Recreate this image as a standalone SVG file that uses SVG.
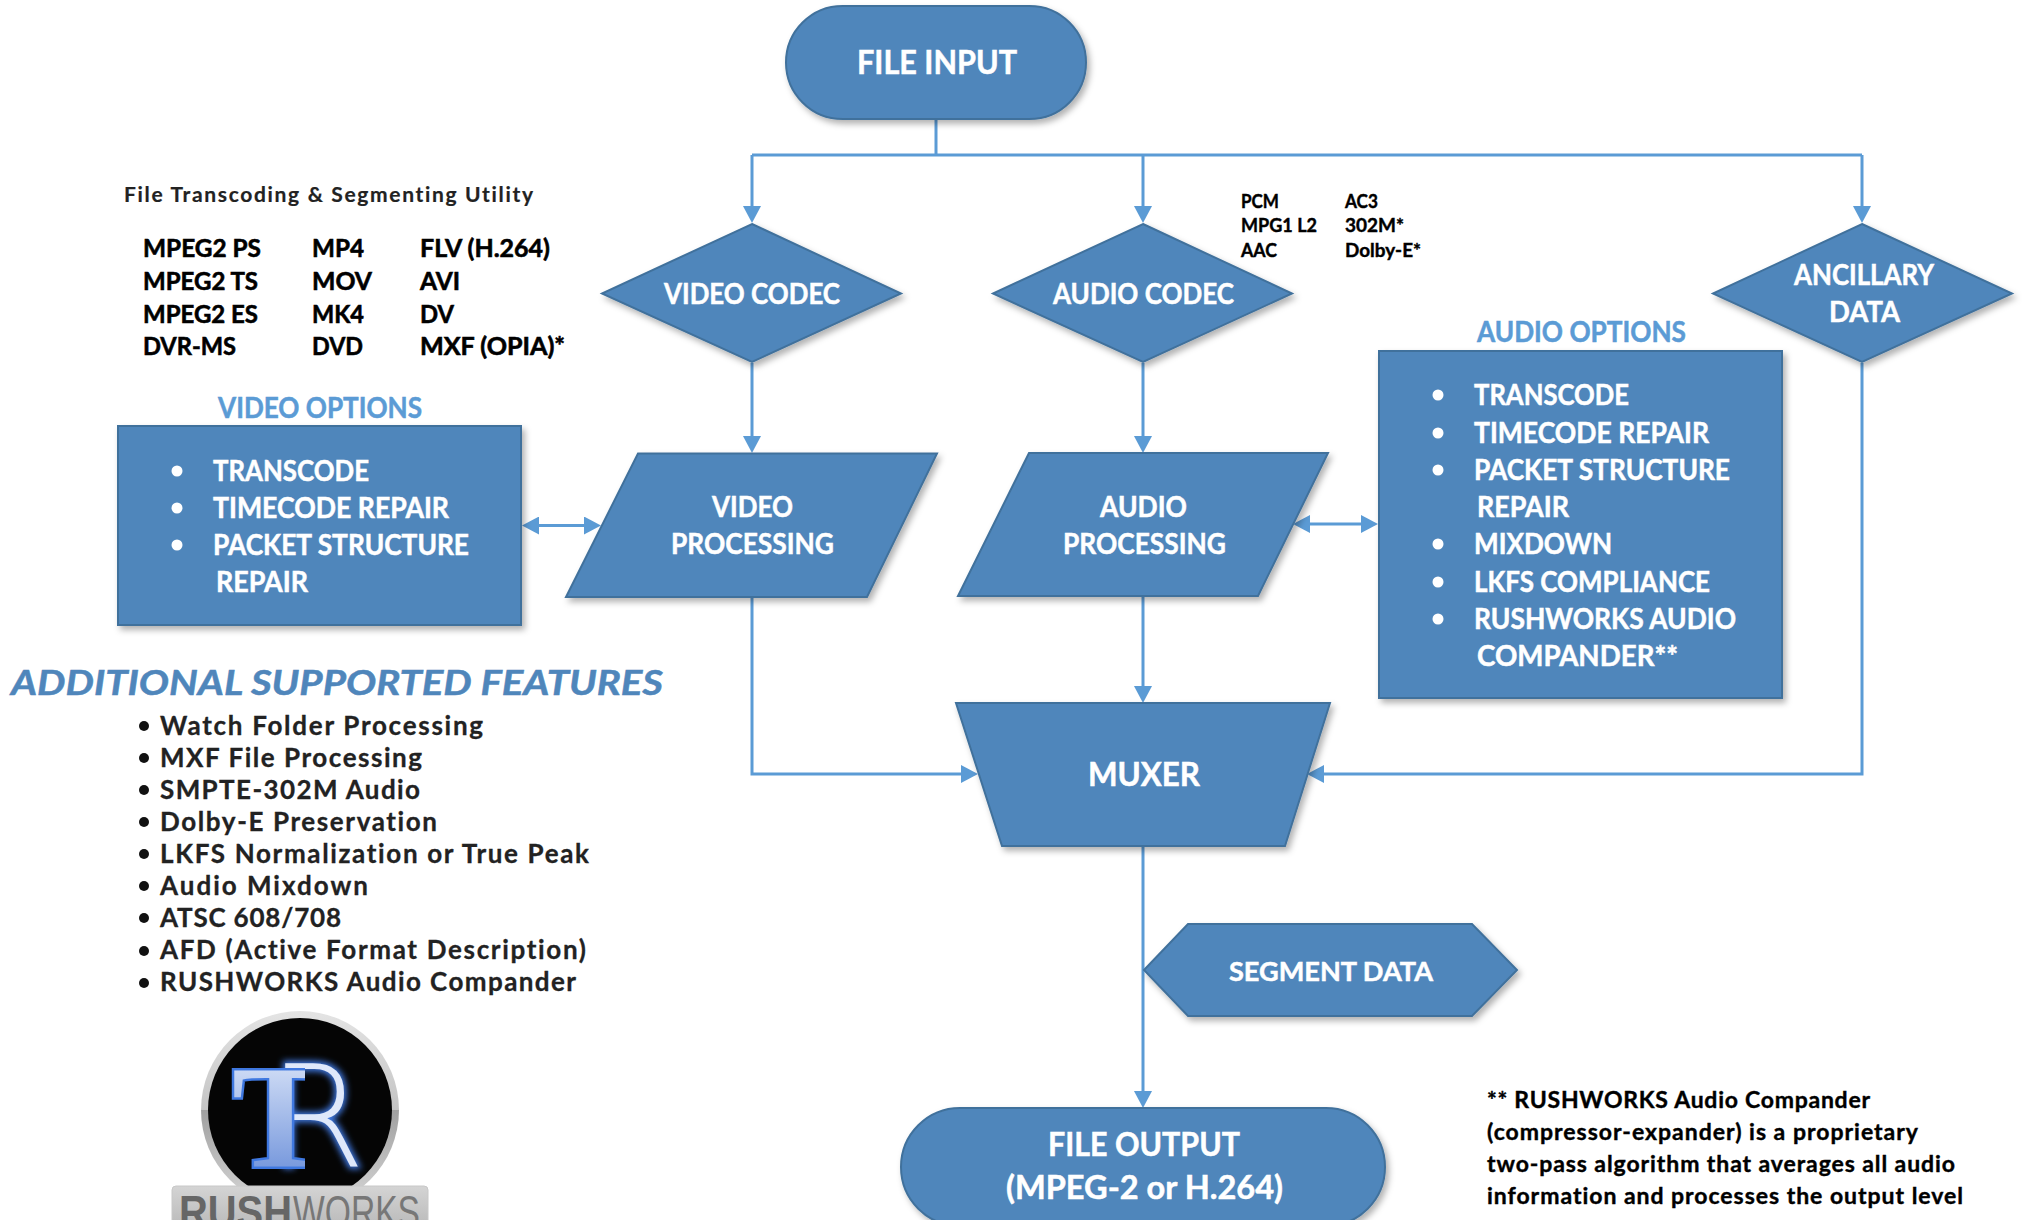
<svg xmlns="http://www.w3.org/2000/svg" width="2022" height="1220" viewBox="0 0 2022 1220">
<style>
text{font-family:"Lato","Open Sans","Liberation Sans",sans-serif;font-weight:700;font-variant-ligatures:none}
.sh{fill:#4f86bb;stroke:#41719c;stroke-width:2}
.n{fill:#fff;stroke:#fff;stroke-width:.5px;font-size:29px;transform:translateY(1px)}
.l{fill:#fff;stroke:#fff;stroke-width:.5px;font-size:28px;transform:translateY(1px)}
.h{fill:#5b9bd5;stroke:#5b9bd5;stroke-width:.5px;font-size:28px;transform:translateY(1px)}
.f{fill:#000;stroke:#000;stroke-width:.6px;font-size:25px;transform:translateX(-1px)}
.a{fill:#000;stroke:#000;stroke-width:.4px;font-size:18px;transform:translateX(-1px)}
.k{fill:#222;stroke:#222;stroke-width:.3px;font-size:26px}
.t{fill:#222;stroke:#222;stroke-width:.2px;font-size:21px}
.c{fill:#000;stroke:#000;stroke-width:.4px;font-size:23px}
.w{fill:#fff}
.d{fill:#111}
.cn{fill:none;stroke:#5b9bd5;stroke-width:3}
</style>
<defs>
<filter id="s" x="-10%" y="-10%" width="125%" height="125%"><feDropShadow dx="3" dy="4" stdDeviation="3" flood-color="#000" flood-opacity="0.3"/></filter>
<filter id="g" x="-30%" y="-30%" width="160%" height="160%"><feGaussianBlur stdDeviation="3"/></filter>
<marker id="ar" markerUnits="userSpaceOnUse" viewBox="0 0 17 18" markerWidth="17" markerHeight="18" refX="12" refY="9" orient="auto-start-reverse"><polygon points="0,0 17,9 0,18" fill="#5b9bd5"/></marker>
<linearGradient id="ring" x1="0" y1="0" x2="0" y2="1"><stop offset="0" stop-color="#e4e4e4"/><stop offset="0.5" stop-color="#c4c4c4"/><stop offset="0.5" stop-color="#a0a0a0"/><stop offset="1" stop-color="#d8d8d8"/></linearGradient>
<linearGradient id="tg" x1="0" y1="0" x2="0" y2="1"><stop offset="0" stop-color="#e8effc"/><stop offset="1" stop-color="#5f86d6"/></linearGradient>
<linearGradient id="lab" x1="0" y1="0" x2="0" y2="1"><stop offset="0" stop-color="#d4d4d4"/><stop offset="1" stop-color="#b4b4b4"/></linearGradient>
<clipPath id="tc"><rect x="200" y="1030" width="105" height="150"/></clipPath>
</defs>

<g id="connectors" class="cn">
<path d="M936 119V155"/>
<path d="M752 155H1862"/>
<path d="M752 155V218" marker-end="url(#ar)"/>
<path d="M1143 155V218" marker-end="url(#ar)"/>
<path d="M1862 155V218" marker-end="url(#ar)"/>
<path d="M752 363V448" marker-end="url(#ar)"/>
<path d="M1143 363V448" marker-end="url(#ar)"/>
<path d="M1143 597V698" marker-end="url(#ar)"/>
<path d="M752 597V774H973" marker-end="url(#ar)"/>
<path d="M1862 363V774H1312" marker-end="url(#ar)"/>
<path d="M1143 847V1103" marker-end="url(#ar)"/>
<path d="M527 525.500H596" marker-start="url(#ar)" marker-end="url(#ar)"/>
<path d="M1298 524H1373" marker-start="url(#ar)" marker-end="url(#ar)"/>
</g>

<g id="file-input"><rect class="sh" filter="url(#s)" x="786" y="6" width="300" height="113" rx="56.500"/>
<text class="n" x="857" y="73" style="font-size:32px" textLength="160" lengthAdjust="spacingAndGlyphs">FILE INPUT</text></g>

<g id="video-codec"><polygon class="sh" filter="url(#s)" points="752,224 901,293.500 752,362 602,293.500"/>
<text class="n" x="664" y="303" textLength="176" lengthAdjust="spacingAndGlyphs">VIDEO CODEC</text></g>
<g id="audio-codec"><polygon class="sh" filter="url(#s)" points="1143,224 1292,293.500 1143,362 993,293.500"/>
<text class="n" x="1053" y="303" textLength="181" lengthAdjust="spacingAndGlyphs">AUDIO CODEC</text></g>
<g id="ancillary-data"><polygon class="sh" filter="url(#s)" points="1862,224 2012,293.500 1862,362 1713,293.500"/>
<text class="n" x="1794" y="284" textLength="140" lengthAdjust="spacingAndGlyphs">ANCILLARY</text>
<text class="n" x="1829" y="321" textLength="71" lengthAdjust="spacingAndGlyphs">DATA</text></g>

<g id="video-processing"><polygon class="sh" filter="url(#s)" points="638,453.500 937,453.500 867,597 566,597"/>
<text class="n" x="712" y="516" textLength="81" lengthAdjust="spacingAndGlyphs">VIDEO</text>
<text class="n" x="671" y="553" textLength="163" lengthAdjust="spacingAndGlyphs">PROCESSING</text></g>
<g id="audio-processing"><polygon class="sh" filter="url(#s)" points="1029,453 1328,453 1258,596 958,596"/>
<text class="n" x="1100" y="516" textLength="87" lengthAdjust="spacingAndGlyphs">AUDIO</text>
<text class="n" x="1063" y="553" textLength="163" lengthAdjust="spacingAndGlyphs">PROCESSING</text></g>

<g id="muxer"><polygon class="sh" filter="url(#s)" points="956,703 1330,703 1285,846 1002,846"/>
<text class="n" style="font-size:32px" x="1088" y="785" textLength="112" lengthAdjust="spacingAndGlyphs">MUXER</text></g>

<g id="segment-data"><polygon class="sh" filter="url(#s)" points="1144,970 1188,924 1472,924 1517,970 1472,1016 1188,1016"/>
<text class="n" style="font-size:27px" x="1229" y="980" textLength="204" lengthAdjust="spacingAndGlyphs">SEGMENT DATA</text></g>

<g id="file-output"><rect class="sh" filter="url(#s)" x="901" y="1108" width="484" height="118" rx="59"/>
<text class="n" style="font-size:32px" x="1048" y="1155" textLength="192" lengthAdjust="spacingAndGlyphs">FILE OUTPUT</text>
<text class="n" style="font-size:32px" x="1006" y="1198" textLength="277" lengthAdjust="spacingAndGlyphs">(MPEG-2 or H.264)</text></g>

<g id="video-options">
<text class="h" x="218" y="417" textLength="204" lengthAdjust="spacingAndGlyphs">VIDEO OPTIONS</text>
<rect class="sh" filter="url(#s)" x="118" y="426" width="403" height="199"/>
<circle class="w" cx="177" cy="471" r="5.500"/><circle class="w" cx="177" cy="508" r="5.500"/><circle class="w" cx="177" cy="545" r="5.500"/>
<text class="l" x="213" y="480" textLength="156" lengthAdjust="spacingAndGlyphs">TRANSCODE</text>
<text class="l" x="213" y="517" textLength="236" lengthAdjust="spacingAndGlyphs">TIMECODE REPAIR</text>
<text class="l" x="213" y="554" textLength="256" lengthAdjust="spacingAndGlyphs">PACKET STRUCTURE</text>
<text class="l" x="216" y="591" textLength="92" lengthAdjust="spacingAndGlyphs">REPAIR</text>
</g>

<g id="audio-options">
<text class="h" x="1477" y="341" textLength="209" lengthAdjust="spacingAndGlyphs">AUDIO OPTIONS</text>
<rect class="sh" filter="url(#s)" x="1379" y="351" width="403" height="347"/>
<circle class="w" cx="1438" cy="395" r="5.500"/><circle class="w" cx="1438" cy="433" r="5.500"/><circle class="w" cx="1438" cy="470" r="5.500"/><circle class="w" cx="1438" cy="544" r="5.500"/><circle class="w" cx="1438" cy="582" r="5.500"/><circle class="w" cx="1438" cy="619" r="5.500"/>
<text class="l" x="1474" y="404" textLength="155" lengthAdjust="spacingAndGlyphs">TRANSCODE</text>
<text class="l" x="1474" y="442" textLength="235" lengthAdjust="spacingAndGlyphs">TIMECODE REPAIR</text>
<text class="l" x="1474" y="479" textLength="256" lengthAdjust="spacingAndGlyphs">PACKET STRUCTURE</text>
<text class="l" x="1477" y="516" textLength="92" lengthAdjust="spacingAndGlyphs">REPAIR</text>
<text class="l" x="1474" y="553" textLength="138" lengthAdjust="spacingAndGlyphs">MIXDOWN</text>
<text class="l" x="1474" y="591" textLength="236" lengthAdjust="spacingAndGlyphs">LKFS COMPLIANCE</text>
<text class="l" x="1474" y="628" textLength="262" lengthAdjust="spacingAndGlyphs">RUSHWORKS AUDIO</text>
<text class="l" x="1477" y="665" textLength="201" lengthAdjust="spacingAndGlyphs">COMPANDER**</text>
</g>

<g id="formats">
<text class="t" x="124" y="202" textLength="409" lengthAdjust="spacing">File Transcoding &amp; Segmenting Utility</text>
<text class="f" x="144" y="257" textLength="118" lengthAdjust="spacingAndGlyphs">MPEG2 PS</text>
<text class="f" x="144" y="290" textLength="115" lengthAdjust="spacingAndGlyphs">MPEG2 TS</text>
<text class="f" x="144" y="323" textLength="115" lengthAdjust="spacingAndGlyphs">MPEG2 ES</text>
<text class="f" x="144" y="355" textLength="93" lengthAdjust="spacingAndGlyphs">DVR-MS</text>
<text class="f" x="313" y="257" textLength="52" lengthAdjust="spacingAndGlyphs">MP4</text>
<text class="f" x="313" y="290" textLength="60" lengthAdjust="spacingAndGlyphs">MOV</text>
<text class="f" x="313" y="323" textLength="52" lengthAdjust="spacingAndGlyphs">MK4</text>
<text class="f" x="313" y="355" textLength="51" lengthAdjust="spacingAndGlyphs">DVD</text>
<text class="f" x="421" y="257" textLength="130" lengthAdjust="spacingAndGlyphs">FLV (H.264)</text>
<text class="f" x="421" y="290" textLength="40" lengthAdjust="spacingAndGlyphs">AVI</text>
<text class="f" x="421" y="323" textLength="34" lengthAdjust="spacingAndGlyphs">DV</text>
<text class="f" x="421" y="355" textLength="145" lengthAdjust="spacingAndGlyphs">MXF (OPIA)*</text>
</g>

<g id="audio-formats">
<text class="a" x="1242" y="208" textLength="38" lengthAdjust="spacingAndGlyphs">PCM</text>
<text class="a" x="1242" y="232" textLength="76" lengthAdjust="spacingAndGlyphs">MPG1 L2</text>
<text class="a" x="1242" y="257" textLength="36" lengthAdjust="spacingAndGlyphs">AAC</text>
<text class="a" x="1346" y="208" textLength="33" lengthAdjust="spacingAndGlyphs">AC3</text>
<text class="a" x="1346" y="232" textLength="59" lengthAdjust="spacingAndGlyphs">302M*</text>
<text class="a" x="1346" y="257" textLength="76" lengthAdjust="spacingAndGlyphs">Dolby-E*</text>
</g>

<g id="features">
<text x="11" y="695" fill="#4f86bb" stroke="#4f86bb" stroke-width=".5" font-size="35" font-style="italic" textLength="652" lengthAdjust="spacingAndGlyphs">ADDITIONAL SUPPORTED FEATURES</text>
<circle class="d" cx="144" cy="726" r="5"/><circle class="d" cx="144" cy="758" r="5"/><circle class="d" cx="144" cy="790" r="5"/><circle class="d" cx="144" cy="822" r="5"/><circle class="d" cx="144" cy="854" r="5"/><circle class="d" cx="144" cy="886" r="5"/><circle class="d" cx="144" cy="918" r="5"/><circle class="d" cx="144" cy="951" r="5"/><circle class="d" cx="144" cy="983" r="5"/>
<text class="k" x="160" y="735" textLength="323" lengthAdjust="spacing">Watch Folder Processing</text>
<text class="k" x="160" y="767" textLength="262" lengthAdjust="spacing">MXF File Processing</text>
<text class="k" x="160" y="799" textLength="260" lengthAdjust="spacing">SMPTE-302M Audio</text>
<text class="k" x="160" y="831" textLength="277" lengthAdjust="spacing">Dolby-E Preservation</text>
<text class="k" x="160" y="863" textLength="429" lengthAdjust="spacing">LKFS Normalization or True Peak</text>
<text class="k" x="160" y="895" textLength="208" lengthAdjust="spacing">Audio Mixdown</text>
<text class="k" x="160" y="927" textLength="181" lengthAdjust="spacing">ATSC 608/708</text>
<text class="k" x="160" y="959" textLength="426" lengthAdjust="spacing">AFD (Active Format Description)</text>
<text class="k" x="160" y="991" textLength="416" lengthAdjust="spacing">RUSHWORKS Audio Compander</text>
</g>

<g id="note">
<text class="c" x="1487" y="1108" textLength="383" lengthAdjust="spacing">** RUSHWORKS Audio Compander</text>
<text class="c" x="1487" y="1140" textLength="431" lengthAdjust="spacing">(compressor-expander) is a proprietary</text>
<text class="c" x="1487" y="1172" textLength="468" lengthAdjust="spacing">two-pass algorithm that averages all audio</text>
<text class="c" x="1487" y="1204" textLength="476" lengthAdjust="spacing">information and processes the output level</text>
</g>

<g id="logo">
<circle cx="300" cy="1110" r="99" fill="url(#ring)"/>
<circle cx="300" cy="1110" r="92" fill="#050505"/>
<g filter="url(#g)">
<text x="268" y="1166" style="font-family:'DejaVu Sans',sans-serif;font-size:140px;font-weight:200;fill:#3f78e0;stroke:#3f78e0;stroke-width:5px">R</text>
</g>
<text x="268" y="1166" style="font-family:'DejaVu Sans',sans-serif;font-size:140px;font-weight:200;fill:#dfe8fa">R</text>
<g clip-path="url(#tc)">
<text x="232" y="1166" style="font-family:'Liberation Serif',serif;font-size:146px;font-weight:700;fill:url(#tg);stroke:#3f78e0;stroke-width:5px;paint-order:stroke">T</text>
</g>
<rect x="172" y="1186" width="256" height="50" rx="4" fill="url(#lab)" stroke="#c8c8c8"/>
<text x="179" y="1228" textLength="113" lengthAdjust="spacingAndGlyphs" style="font-family:'Liberation Sans',sans-serif;font-size:46px;font-weight:700;fill:#666">RUSH</text>
<text x="293" y="1228" textLength="127" lengthAdjust="spacingAndGlyphs" style="font-family:'Liberation Sans',sans-serif;font-size:46px;font-weight:400;fill:#777">WORKS</text>
</g>
</svg>
